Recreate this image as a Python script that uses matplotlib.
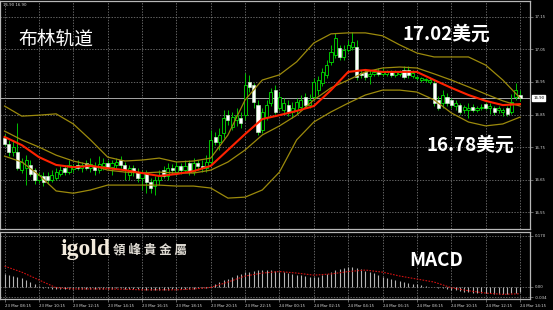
import numpy as np
from matplotlib import pyplot as plt
from matplotlib.transforms import blended_transform_factory

# 15 min silver candles, 23 Mar 08:15 -> 24 Mar 14:15
time_labels = ["23 Mar 08:15", "23 Mar 10:15", "23 Mar 12:15", "23 Mar 14:15",
               "23 Mar 16:15", "23 Mar 18:15", "23 Mar 20:15", "23 Mar 22:15",
               "24 Mar 00:15", "24 Mar 02:15", "24 Mar 04:15", "24 Mar 06:15",
               "24 Mar 08:15", "24 Mar 10:15", "24 Mar 12:15", "24 Mar 14:15"]

op = [16.778, 16.759, 16.735, 16.735, 16.679, 16.685, 16.695, 16.679, 16.648, 16.661,
      16.661, 16.648, 16.655, 16.667, 16.685, 16.673, 16.682, 16.695, 16.685, 16.701,
      16.685, 16.692, 16.679, 16.692, 16.701, 16.688, 16.695, 16.710, 16.695, 16.664,
      16.685, 16.673, 16.655, 16.670, 16.642, 16.630, 16.648, 16.679, 16.661, 16.685,
      16.673, 16.692, 16.679, 16.701, 16.673, 16.701, 16.692, 16.685, 16.704, 16.781,
      16.765, 16.793, 16.848, 16.812, 16.833, 16.839, 16.848, 16.950, 16.941, 16.879,
      16.802, 16.842, 16.885, 16.925, 16.870, 16.864, 16.879, 16.858, 16.864, 16.873,
      16.904, 16.879, 16.904, 16.925, 16.947, 16.972, 17.012, 17.033, 17.055, 17.027,
      17.048, 17.058, 17.058, 16.978, 16.981, 16.968, 16.975, 16.981, 16.975, 16.975,
      16.981, 16.972, 16.975, 16.987, 16.987, 16.968, 16.962, 16.956, 16.956, 16.950,
      16.947, 16.895, 16.885, 16.904, 16.895, 16.876, 16.879, 16.864, 16.864, 16.873,
      16.864, 16.870, 16.882, 16.870, 16.870, 16.864, 16.858, 16.870, 16.858, 16.904,
      16.910]
hi = [16.790, 16.772, 16.772, 16.824, 16.716, 16.725, 16.710, 16.685, 16.673, 16.673,
      16.673, 16.679, 16.685, 16.692, 16.695, 16.710, 16.698, 16.710, 16.704, 16.710,
      16.716, 16.704, 16.722, 16.716, 16.710, 16.710, 16.716, 16.722, 16.704, 16.695,
      16.695, 16.685, 16.679, 16.679, 16.655, 16.661, 16.679, 16.692, 16.701, 16.698,
      16.704, 16.701, 16.710, 16.710, 16.716, 16.710, 16.710, 16.725, 16.802, 16.796,
      16.808, 16.864, 16.864, 16.858, 16.870, 16.858, 16.978, 16.972, 16.947, 16.895,
      16.870, 16.895, 16.932, 16.941, 16.919, 16.901, 16.895, 16.888, 16.901, 16.910,
      16.916, 16.913, 16.962, 16.968, 16.993, 17.018, 17.064, 17.101, 17.064, 17.064,
      17.079, 17.104, 17.079, 16.987, 16.987, 16.987, 16.987, 16.993, 16.993, 16.987,
      16.987, 16.987, 16.987, 16.999, 16.999, 16.987, 16.968, 16.965, 16.962, 16.965,
      16.956, 16.907, 16.925, 16.916, 16.901, 16.895, 16.885, 16.879, 16.885, 16.882,
      16.876, 16.882, 16.888, 16.885, 16.876, 16.876, 16.870, 16.876, 16.913, 16.947,
      16.925]
lo = [16.753, 16.722, 16.722, 16.679, 16.670, 16.633, 16.661, 16.636, 16.639, 16.630,
      16.636, 16.642, 16.648, 16.661, 16.664, 16.667, 16.673, 16.679, 16.673, 16.679,
      16.673, 16.664, 16.670, 16.679, 16.679, 16.664, 16.685, 16.685, 16.648, 16.648,
      16.661, 16.642, 16.618, 16.608, 16.608, 16.602, 16.633, 16.655, 16.648, 16.667,
      16.664, 16.667, 16.673, 16.664, 16.664, 16.679, 16.673, 16.673, 16.695, 16.756,
      16.741, 16.778, 16.818, 16.802, 16.815, 16.808, 16.833, 16.919, 16.870, 16.787,
      16.793, 16.833, 16.876, 16.852, 16.864, 16.852, 16.845, 16.839, 16.852, 16.864,
      16.870, 16.870, 16.895, 16.910, 16.938, 16.962, 17.002, 17.024, 17.018, 17.018,
      17.042, 17.048, 16.956, 16.962, 16.956, 16.944, 16.968, 16.968, 16.968, 16.968,
      16.965, 16.965, 16.968, 16.959, 16.962, 16.962, 16.956, 16.950, 16.950, 16.944,
      16.876, 16.864, 16.870, 16.876, 16.870, 16.864, 16.852, 16.855, 16.839, 16.858,
      16.858, 16.864, 16.864, 16.852, 16.848, 16.855, 16.845, 16.845, 16.852, 16.895,
      16.892]
cl = [16.759, 16.735, 16.750, 16.685, 16.704, 16.710, 16.667, 16.648, 16.664, 16.642,
      16.648, 16.664, 16.673, 16.679, 16.673, 16.695, 16.688, 16.685, 16.695, 16.685,
      16.698, 16.679, 16.698, 16.701, 16.688, 16.701, 16.704, 16.695, 16.679, 16.685,
      16.673, 16.655, 16.670, 16.642, 16.624, 16.648, 16.661, 16.661, 16.685, 16.679,
      16.692, 16.679, 16.692, 16.673, 16.701, 16.692, 16.685, 16.704, 16.772, 16.765,
      16.787, 16.839, 16.833, 16.842, 16.848, 16.824, 16.941, 16.935, 16.888, 16.796,
      16.858, 16.879, 16.919, 16.858, 16.904, 16.885, 16.858, 16.870, 16.888, 16.895,
      16.879, 16.895, 16.950, 16.956, 16.981, 17.002, 17.042, 17.085, 17.027, 17.048,
      17.064, 17.073, 16.965, 16.972, 16.965, 16.975, 16.981, 16.975, 16.981, 16.981,
      16.972, 16.981, 16.981, 16.965, 16.972, 16.978, 16.965, 16.962, 16.959, 16.956,
      16.885, 16.870, 16.910, 16.885, 16.879, 16.885, 16.858, 16.873, 16.870, 16.864,
      16.870, 16.873, 16.870, 16.876, 16.858, 16.870, 16.864, 16.852, 16.888, 16.925,
      16.900]

# indicator lines
line_bars = list(range(0, 121, 4))
ma_red = [16.781, 16.756, 16.719, 16.695, 16.688, 16.692, 16.685, 16.679, 16.670, 16.661,
          16.667, 16.676, 16.692, 16.741, 16.790, 16.836, 16.848, 16.861, 16.876, 16.925,
          16.981, 16.987, 16.981, 16.981, 16.981, 16.956, 16.932, 16.910, 16.892, 16.879,
          16.882]
bb_upper = [16.876, 16.845, 16.848, 16.852, 16.821, 16.772, 16.719, 16.707, 16.710, 16.716,
            16.704, 16.707, 16.716, 16.787, 16.895, 16.956, 16.972, 17.012, 17.070, 17.098,
            17.101, 17.101, 17.092, 17.064, 17.039, 17.027, 17.027, 17.027, 17.002, 16.956,
            16.901]
bb_mid = [16.799, 16.772, 16.750, 16.725, 16.707, 16.695, 16.679, 16.673, 16.670, 16.673,
          16.670, 16.670, 16.679, 16.704, 16.741, 16.787, 16.815, 16.848, 16.895, 16.932,
          16.956, 16.981, 16.993, 16.996, 16.993, 16.975, 16.956, 16.935, 16.913, 16.892,
          16.876]
bb_lower = [16.722, 16.704, 16.664, 16.615, 16.608, 16.618, 16.633, 16.633, 16.633, 16.633,
            16.630, 16.630, 16.624, 16.593, 16.596, 16.618, 16.673, 16.772, 16.827, 16.858,
            16.885, 16.910, 16.925, 16.925, 16.919, 16.895, 16.855, 16.827, 16.815, 16.821,
            16.842]

macd_hist = [0.043, 0.040, 0.037, 0.033, 0.028, 0.022, 0.015, 0.008, 0.002, -0.003,
             -0.005, -0.006, -0.007, -0.008, -0.008, -0.008, -0.008, -0.007, -0.007, -0.007,
             -0.006, -0.006, -0.006, -0.006, -0.006, -0.006, -0.005, -0.005, -0.006, -0.006,
             -0.007, -0.008, -0.008, -0.009, -0.010, -0.010, -0.010, -0.009, -0.009, -0.008,
             -0.008, -0.007, -0.007, -0.007, -0.006, -0.005, -0.004, -0.003, 0.004, 0.010,
             0.016, 0.022, 0.027, 0.033, 0.038, 0.042, 0.048, 0.051, 0.054, 0.055,
             0.056, 0.056, 0.055, 0.053, 0.050, 0.048, 0.045, 0.043, 0.041, 0.038,
             0.036, 0.034, 0.033, 0.034, 0.038, 0.044, 0.050, 0.056, 0.061, 0.064,
             0.066, 0.066, 0.062, 0.058, 0.054, 0.050, 0.045, 0.040, 0.034, 0.028,
             0.025, 0.022, 0.019, 0.016, 0.013, 0.010, 0.008, 0.005, 0.003, 0.001,
             -0.001, -0.003, -0.005, -0.008, -0.010, -0.012, -0.014, -0.016, -0.018, -0.019,
             -0.020, -0.021, -0.022, -0.022, -0.023, -0.023, -0.023, -0.023, -0.022, -0.020,
             -0.018]
macd_signal = [0.069, 0.049, 0.023, -0.003, -0.007, -0.007, -0.007, -0.008, -0.010, -0.010,
               -0.010, -0.007, -0.002, 0.016, 0.036, 0.046, 0.051, 0.046, 0.039, 0.043,
               0.051, 0.056, 0.049, 0.036, 0.026, 0.016, -0.003, -0.013, -0.021, -0.025,
               -0.023]

price_ticks = [16.55, 16.65, 16.75, 16.85, 16.95, 17.05, 17.15]
macd_ticks = [0.170, 0.0, -0.034]
macd_tick_labels = ["0.170", "0.00", "-0.034"]
last_price = 16.90

W, H = 553, 310
fig = plt.figure(figsize=(W / 100, H / 100), dpi=100, facecolor='black')
ax = fig.add_axes([0, (H - 229) / H, 530 / W, 228 / H], facecolor='black')
ax2 = fig.add_axes([0, (H - 299) / H, 530 / W, 67 / H], facecolor='black')

grid_col = '#8a8a8a'
text_col = '#d8d8d8'
green = '#00e000'

x = np.arange(len(cl))
o, h, l, c = (np.array(v) for v in (op, hi, lo, cl))
up = c >= o

# candles: wicks first, black bodies for up bars, white for down bars
ax.vlines(x, l, h, color='#00c000', lw=0.7, zorder=2)
ax.bar(x[up], np.maximum(c - o, 0.001)[up], bottom=o[up], width=0.72,
       color='black', edgecolor=green, lw=0.6, zorder=3)
ax.bar(x[~up], (o - c)[~up], bottom=c[~up], width=0.72,
       color='white', edgecolor='#d0ffd0', lw=0.4, zorder=3)

# bollinger bands + moving average
band_col = '#9c8a0c'
ax.plot(line_bars, bb_upper, color=band_col, lw=0.9, zorder=4)
ax.plot(line_bars, bb_mid, color=band_col, lw=0.9, zorder=4)
ax.plot(line_bars, bb_lower, color=band_col, lw=0.9, zorder=4)
ax.plot(line_bars, ma_red, color='#ff2200', lw=1.5, zorder=5)

ax.axhline(last_price, color='#a8a8a8', lw=0.7, zorder=1)

ax.set_xlim(-1.07, 122.33)
ax.set_ylim(16.498, 17.199)
ax.set_xticks(range(0, 121, 8))
ax.set_xticklabels([])
ax.set_yticks(price_ticks)
ax.yaxis.tick_right()
ax.set_yticklabels([f"{p:.2f}" for p in price_ticks], fontsize=2.8, color=text_col)
ax.tick_params(axis='y', length=2, width=0.5, color=grid_col, pad=1.5)
ax.tick_params(axis='x', length=0)
ax.grid(True, color=grid_col, ls=(0, (2, 2)), lw=0.5)

# last price box on the axis
trans = blended_transform_factory(ax.transAxes, ax.transData)
ax.text(1.006, last_price, f"{last_price:.2f}", transform=trans, fontsize=2.8,
        color='black', va='center', ha='left',
        bbox=dict(boxstyle='square,pad=0.25', fc='white', ec='white'))

# macd panel
ax2.vlines(x, 0, macd_hist, color='#b4b4b4', lw=0.8, zorder=2)
ax2.plot(line_bars, macd_signal, color='#d01010', lw=0.8, ls=(0, (1.5, 1.2)), zorder=3)
ax2.set_xlim(-1.07, 122.33)
ax2.set_ylim(-0.0406, 0.183)
ax2.set_yticks(macd_ticks)
ax2.yaxis.tick_right()
ax2.set_yticklabels(macd_tick_labels, fontsize=2.8, color=text_col)
ax2.set_xticks(range(0, 121, 8))
ax2.set_xticklabels(time_labels, fontsize=2.8, color=text_col, ha='left')
ax2.tick_params(axis='both', length=2, width=0.5, color=grid_col, pad=1.5)
ax2.grid(True, color=grid_col, ls=(0, (2, 2)), lw=0.5)

for a in (ax, ax2):
    for s in a.spines.values():
        s.set_color('#b8b8b8')
        s.set_linewidth(0.9)

cjk = ['Noto Sans CJK SC', 'DejaVu Sans']
fig.text(3 / W, 1 - 5 / H, "16.90 16.90", fontsize=2.8, color=text_col, va='center')
fig.text(18 / W, 1 - 39 / H, "布林轨道", family=cjk, fontsize=13.5, color='white', va='center')
fig.text(402 / W, 1 - 34.5 / H, "17.02美元", family=cjk, fontsize=13.5,
         weight='bold', color='white', va='center')
fig.text(427 / W, 1 - 145.5 / H, "16.78美元", family=cjk, fontsize=13.5,
         weight='bold', color='white', va='center')
fig.text(409 / W, 1 - 260 / H, "MACD", family=cjk, fontsize=13.5,
         weight='bold', color='white', va='center')
fig.text(60 / W, 1 - 249 / H, "igold", family='Liberation Serif', fontsize=17,
         weight='bold', color='#f2eadc', va='center')
fig.text(113 / W, 1 - 249.5 / H, "領 峰 貴 金 屬", family=['Noto Sans CJK TC', 'DejaVu Sans'],
         fontsize=9, weight='bold', color='#e0dcd4', va='center')

fig.savefig("out.png", dpi=100, facecolor='black')
